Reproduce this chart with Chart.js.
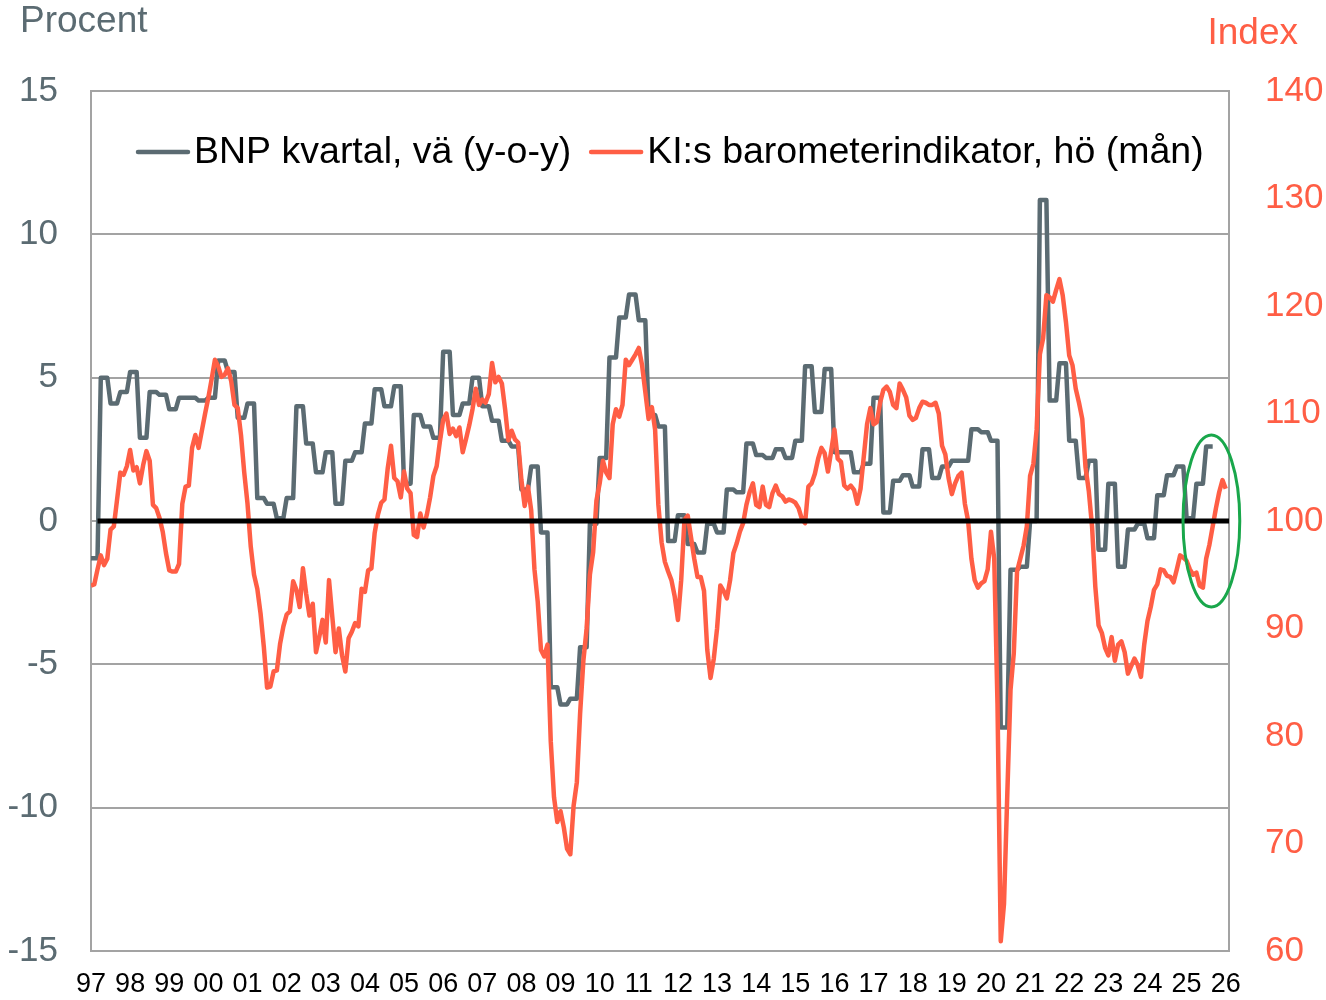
<!DOCTYPE html>
<html lang="sv">
<head>
<meta charset="utf-8">
<title>BNP och KI:s barometerindikator</title>
<script src="https://cdn.jsdelivr.net/npm/chart.js@4.4.1/dist/chart.umd.min.js"></script>
<style>
  html, body { margin: 0; padding: 0; background: #fff; }
  #wrap { width: 1326px; height: 1000px; }
  canvas { display: block; }
</style>
</head>
<body>
<div id="wrap"><canvas id="chart" width="1326" height="1000"></canvas></div>
<script>
const FONT = '"Liberation Sans", Arial, sans-serif';
const GRAY = '#5b6b72', ORANGE = '#ff5e45', GREEN = '#19a74b', GRID = '#a3a3a3';

// x axis: months since Jan 1997, one label per January
const YEAR_LABELS = ['97', '98', '99', '00', '01', '02', '03', '04', '05', '06', '07', '08', '09', '10', '11',
  '12', '13', '14', '15', '16', '17', '18', '19', '20', '21', '22', '23', '24', '25', '26'];
const X_MAX = 349;

// BNP kvartal, årlig förändring i procent, 1997 K1 – 2025 K3 (vänster axel)
const GDP_Q = [
  -1.3, 5.0, 4.1, 4.5,   5.2, 2.9, 4.5, 4.4,   3.9, 4.3, 4.3, 4.2,   4.3, 5.6, 5.2, 3.6,
  4.1, 0.8, 0.6, 0.1,    0.8, 4.0, 2.7, 1.7,   2.4, 0.6, 2.1, 2.4,   3.4, 4.6, 4.0, 4.7,
  1.3, 3.7, 3.3, 2.9,    5.9, 3.7, 4.1, 5.0,   4.0, 3.5, 2.8, 2.6,   1.1, 1.9, -0.4, -5.8,
  -6.4, -6.2, -4.4, -0.1, 2.2, 5.7, 7.1, 7.9,  7.0, 3.7, 3.3, -0.7,  0.2, -0.8, -1.1, -0.1,
  -0.4, 1.1, 1.0, 2.7,   2.3, 2.2, 2.5, 2.2,   2.8, 5.4, 3.8, 5.3,   2.4, 2.4, 1.7, 2.0,
  4.3, 0.3, 1.4, 1.6,    1.2, 2.5, 1.5, 1.9,   2.1, 2.1, 3.2, 3.1,   2.8, -7.2, -1.7, -1.6,
  0.0, 11.2, 4.2, 5.5,   2.8, 1.5, 2.1, -1.0,  1.3, -1.6, -0.3, -0.1, -0.6, 0.9, 1.6, 1.9,
  0.1, 1.3, 2.6,
];

// KI:s barometerindikator, månad, jan 1997 och framåt (höger axel)
const BARO = [
  94.0, 94.1, 95.5, 96.8, 95.9, 96.5, 99.2, 99.5, 102.0, 104.5, 104.3, 105.1,
  106.6, 104.7, 105.0, 103.5, 105.2, 106.5, 105.6, 101.5, 101.2, 100.3, 99.0, 97.0,
  95.4, 95.3, 95.3, 96.0, 101.6, 103.2, 103.3, 106.8, 108.0, 106.8, 108.4, 110.0,
  111.5, 113.2, 115.0, 114.4, 113.4, 113.6, 114.2, 113.0, 110.8, 110.5, 108.0, 104.5,
  101.6, 97.6, 95.0, 93.7, 91.4, 88.3, 84.5, 84.6, 86.0, 86.1, 88.6, 90.2,
  91.3, 91.6, 94.4, 93.6, 92.0, 95.6, 93.2, 91.2, 92.3, 87.8, 89.2, 90.8,
  88.7, 94.5, 91.1, 87.8, 90.0, 87.5, 86.0, 89.1, 89.7, 90.5, 90.2, 93.7,
  93.4, 95.4, 95.6, 98.9, 100.6, 101.7, 102.0, 104.9, 107.0, 104.0, 103.7, 102.2,
  104.6, 103.0, 102.6, 98.7, 98.5, 100.7, 99.4, 100.6, 102.2, 104.2, 105.1, 107.4,
  109.4, 110.0, 108.1, 108.6, 107.9, 108.7, 106.4, 107.6, 108.9, 110.4, 112.3, 110.8,
  111.3, 111.0, 111.8, 114.7, 112.9, 113.4, 112.8, 110.4, 107.5, 108.4, 107.6, 107.3,
  103.8, 101.4, 103.2, 101.0, 95.5, 92.5, 88.0, 87.4, 88.5, 79.5, 74.3, 72.0,
  73.0, 71.5, 69.5, 69.0, 73.5, 75.7, 82.1, 87.0, 90.0, 95.0, 97.1, 101.9,
  103.5, 105.6, 104.5, 104.0, 109.0, 110.4, 109.7, 110.8, 115.0, 114.5, 115.0, 115.5,
  116.1, 114.5, 112.0, 109.5, 110.6, 108.5, 101.5, 98.0, 96.2, 95.3, 94.5, 93.0,
  90.8, 94.5, 100.1, 100.5, 98.5, 96.5, 94.8, 94.8, 93.5, 88.0, 85.4, 87.2,
  90.0, 94.0, 93.5, 92.8, 94.5, 97.0, 97.9, 99.0, 99.8, 101.5, 102.7, 103.5,
  101.5, 101.3, 103.2, 101.5, 101.3, 102.6, 103.3, 102.5, 102.3, 101.8, 102.0, 101.9,
  101.7, 101.2, 100.2, 99.8, 103.2, 103.5, 104.4, 105.8, 106.8, 106.3, 104.6, 106.5,
  108.5, 105.8, 105.5, 103.3, 103.0, 103.3, 102.9, 101.6, 103.0, 106.0, 109.0, 110.5,
  109.0, 109.2, 111.0, 112.2, 112.5, 112.0, 110.8, 110.5, 112.8, 112.2, 111.5, 109.8,
  109.4, 109.6, 110.5, 111.1, 111.0, 110.8, 110.8, 111.0, 110.0, 107.0, 106.2, 104.0,
  102.5, 103.5, 104.2, 104.5, 101.6, 100.0, 96.5, 94.5, 93.8, 94.2, 94.4, 95.5,
  99.0, 96.5, 83.0, 60.9, 64.4, 74.5, 84.3, 87.7, 95.3, 96.5, 97.7, 99.5,
  104.2, 105.3, 108.5, 115.5, 117.0, 121.0, 120.8, 120.4, 121.5, 122.5, 121.0, 118.5,
  115.4, 114.5, 112.3, 111.0, 109.5, 105.0, 102.8, 99.5, 93.9, 90.3, 89.6, 88.2,
  87.5, 89.2, 87.0, 88.5, 88.8, 87.8, 85.8, 86.5, 87.2, 86.6, 85.5, 88.5,
  90.7, 92.0, 93.6, 94.1, 95.5, 95.4, 94.9, 94.8, 94.3, 95.5, 96.8, 96.6,
  96.3, 95.5, 95.0, 95.2, 94.0, 93.8, 96.5, 97.8, 99.5, 101.2, 102.7, 103.8,
  103.0,
];

const LEGEND = [
  ['BNP kvartal, vä (y-o-y)', GRAY],
  ['KI:s barometerindikator, hö (mån)', ORANGE],
];

// green ring marking the latest months (centre month/value, half width in months, half height in %)
const RING = { month: 343.6, value: 0, months: 8.7, span: 3.0 };

// quarterly GDP is shown as a monthly step series (same value for the 3 months)
const gdpMonthly = GDP_Q.flatMap((v, q) => [0, 1, 2].map(k => ({ x: q * 3 + k, y: v })));
const baroMonthly = BARO.map((v, m) => ({ x: m, y: v }));
const zeroLine = [];
for (let m = 2; m <= X_MAX; m++) zeroLine.push({ x: m, y: 0 });

const decor = {
  id: 'decor',
  afterDatasetsDraw(chart) {
    const { ctx, scales: { x, y } } = chart;
    const cx = x.getPixelForValue(RING.month), cy = y.getPixelForValue(RING.value);
    const rx = Math.abs(x.getPixelForValue(RING.month + RING.months) - cx);
    const ry = Math.abs(y.getPixelForValue(RING.value + RING.span) - cy);
    ctx.save();
    ctx.strokeStyle = GREEN; ctx.lineWidth = 3;
    ctx.beginPath(); ctx.ellipse(cx, cy, rx, ry, 0, 0, Math.PI * 2); ctx.stroke();
    ctx.restore();
  },
  afterDraw(chart) {
    const { ctx, chartArea: a } = chart;
    ctx.save();
    ctx.font = `37px ${FONT}`;
    ctx.textBaseline = 'middle';
    ctx.fillStyle = GRAY; ctx.textAlign = 'left';
    ctx.fillText('Procent', 20, 22);
    ctx.fillStyle = ORANGE; ctx.textAlign = 'right';
    ctx.fillText('Index', 1298, 34);

    // legend inside the plot, top
    ctx.font = `37.5px ${FONT}`;
    let lx = a.left + 45;
    const ly = a.top + 61;
    ctx.textAlign = 'left';
    ctx.lineCap = 'round';
    LEGEND.forEach(([label, col]) => {
      ctx.strokeStyle = col; ctx.lineWidth = 4.5;
      ctx.beginPath(); ctx.moveTo(lx + 2, ly); ctx.lineTo(lx + 52, ly); ctx.stroke();
      ctx.fillStyle = '#000';
      ctx.fillText(label, lx + 58, ly + 1);
      lx += 58 + ctx.measureText(label).width + 18;
    });
    ctx.restore();
  },
};

// small lineHeight on the y tick fonts keeps their (half label + padding) from pushing the plot bottom up
new Chart(document.getElementById('chart'), {
  type: 'line',
  data: {
    datasets: [
      { label: 'noll', data: zeroLine, yAxisID: 'y', borderColor: '#000', borderWidth: 5 },
      { label: LEGEND[1][0], data: baroMonthly, yAxisID: 'y2', borderColor: ORANGE, borderWidth: 4.5 },
      { label: LEGEND[0][0], data: gdpMonthly, yAxisID: 'y', borderColor: GRAY, borderWidth: 4.5 },
    ],
  },
  options: {
    responsive: false,
    animation: false,
    devicePixelRatio: 1,
    layout: { padding: { top: 91, left: 0, right: 0, bottom: 0 } },
    elements: {
      point: { radius: 0, hoverRadius: 0 },
      line: { tension: 0, borderJoinStyle: 'round', fill: false },
    },
    plugins: { legend: { display: false }, tooltip: { enabled: false } },
    scales: {
      x: {
        type: 'linear', min: 0, max: X_MAX,
        afterBuildTicks: s => { s.ticks = YEAR_LABELS.map((_, i) => ({ value: i * 12 })); },
        afterFit: s => { s.height = 49; },
        ticks: {
          autoSkip: false, maxRotation: 0, padding: 17.8, color: '#000',
          font: { family: FONT, size: 27, lineHeight: 1.2 },
          callback: (v, i) => YEAR_LABELS[i],
        },
        grid: { display: true, drawOnChartArea: false, drawTicks: false },
        border: { display: true, color: GRID, width: 2 },
      },
      y: {
        position: 'left', min: -15, max: 15,
        afterFit: s => { s.width = 91; },
        ticks: { stepSize: 5, padding: 33, color: GRAY, font: { family: FONT, size: 35, lineHeight: 0.7 } },
        grid: { color: GRID, lineWidth: 2, drawTicks: false },
        border: { display: true, color: GRID, width: 2 },
      },
      y2: {
        position: 'right', min: 60, max: 140,
        afterFit: s => { s.width = 97; },
        ticks: { stepSize: 10, padding: 36, color: ORANGE, font: { family: FONT, size: 35, lineHeight: 0.7 } },
        grid: { drawOnChartArea: false, drawTicks: false },
        border: { display: true, color: GRID, width: 2 },
      },
    },
  },
  plugins: [decor],
});
</script>
</body>
</html>
